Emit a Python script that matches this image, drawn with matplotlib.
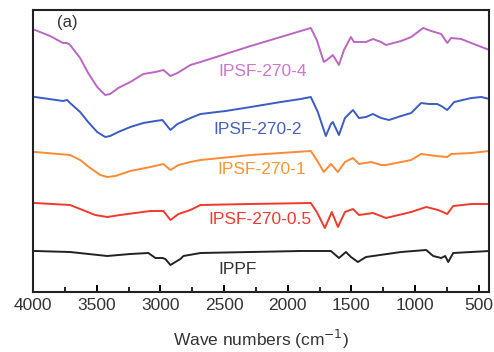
import numpy as np
import matplotlib
matplotlib.use('Agg')
import matplotlib.pyplot as plt
from matplotlib.ticker import MultipleLocator

plt.rcParams['font.family'] = ['Liberation Sans', 'DejaVu Sans']

# FTIR spectra, arbitrary transmittance units (stacked)
wn_4 = [3984, 3866, 3764, 3732, 3709, 3630, 3567, 3496, 3433, 3394, 3331, 3236, 3134, 3039,
        2976, 2921, 2866, 2764, 2685, 2488, 2291, 2055, 1898, 1819, 1772, 1717, 1693, 1646,
        1598, 1559, 1504, 1480, 1386, 1331, 1268, 1228, 1110, 1031, 937, 874, 795, 748, 717,
        638, 559, 417]
t_4 = [270, 264, 257, 257, 255, 242, 227, 213, 205, 206, 212, 218, 226, 228,
       230, 224, 227, 235, 238, 246, 254, 263, 269, 272, 260, 238, 240, 245,
       235, 250, 263, 258, 258, 261, 258, 255, 259, 263, 272, 269, 266, 257, 262,
       261, 257, 250]

wn_2 = [3984, 3764, 3732, 3709, 3630, 3567, 3496, 3433, 3394, 3331, 3236, 3134, 3039, 2984,
        2921, 2866, 2764, 2685, 2488, 2291, 2055, 1898, 1819, 1764, 1701, 1661, 1646, 1598,
        1551, 1488, 1441, 1386, 1331, 1268, 1205, 1110, 1031, 953, 890, 827, 795, 748, 693,
        559, 480, 417]
t_2 = [203, 199, 200, 197, 188, 178, 168, 163, 164, 168, 173, 177, 179, 180,
       170, 176, 182, 186, 189, 193, 198, 201, 203, 188, 164, 176, 178, 165,
       182, 190, 182, 183, 186, 182, 180, 184, 187, 197, 196, 196, 194, 190, 198,
       202, 203, 201]

wn_1 = [3984, 3709, 3630, 3551, 3472, 3417, 3354, 3236, 3079, 2976, 2921, 2858, 2764, 2685,
        2291, 1819, 1772, 1717, 1661, 1606, 1551, 1488, 1441, 1346, 1268, 1228, 1110, 1031,
        953, 835, 748, 717, 559, 417]
t_1 = [148, 145, 140, 132, 125, 123, 124, 129, 133, 136, 130, 135, 138, 140,
       145, 149, 140, 128, 136, 128, 138, 142, 136, 138, 135, 135, 138, 140,
       146, 144, 143, 146, 147, 149]

wn_05 = [3984, 3709, 3630, 3512, 3417, 3315, 3079, 2976, 2921, 2858, 2764, 2685, 2291, 1819,
         1772, 1709, 1654, 1606, 1551, 1488, 1441, 1331, 1228, 1031, 913, 819, 748, 701,
         559, 417]
t_05 = [97, 95, 91, 85, 83, 85, 89, 89, 80, 86, 90, 95, 96, 97,
        88, 72, 88, 73, 88, 91, 85, 87, 82, 88, 93, 90, 86, 94,
        96, 96]

wn_ppf = [3984, 3709, 3417, 3236, 3094, 3039, 2984, 2961, 2921, 2882, 2843, 2819, 2685, 1898,
          1661, 1598, 1543, 1504, 1449, 1386, 1110, 913, 858, 795, 764, 740, 701, 417]
t_ppf = [49, 48, 44, 46, 47, 42, 42, 41, 35, 38, 41, 44, 47, 49,
         49, 42, 48, 43, 38, 43, 48, 50, 44, 42, 44, 38, 47, 49]

series = [
    (wn_ppf, t_ppf, '#222222', '#333333', 'IPPF', 2394, 30),
    (wn_05, t_05, '#f2392b', '#f03a2e', 'IPSF-270-0.5', 2220, 80),
    (wn_1, t_1, '#ff8a33', '#ff9433', 'IPSF-270-1', 2205, 130),
    (wn_2, t_2, '#3a5cc4', '#4660bf', 'IPSF-270-2', 2236, 171),
    (wn_4, t_4, '#b967c3', '#cc77cc', 'IPSF-270-4', 2197, 228),
]

fig = plt.figure(figsize=(4.94, 3.52), dpi=100)
ax = fig.add_axes([33 / 494, 60 / 352, 456 / 494, 282 / 352])

for wn, t, c, tc, name, lx, ly in series:
    ax.plot(wn, t, color=c, lw=1.4, solid_joinstyle='round')
    ax.text(lx, ly, name, color=tc, fontsize=12.5, ha='center', va='center')

ax.text(3732, 278, '(a)', fontsize=12, color='#333333', ha='center', va='center')

ax.set_xlim(4000, 420)
ax.set_ylim(8, 290)
ax.set_yticks([])
ax.xaxis.set_major_locator(MultipleLocator(500))
ax.xaxis.set_minor_locator(MultipleLocator(250))
ax.tick_params(axis='x', which='major', direction='in', length=5, width=1.4,
               labelsize=12.5, labelcolor='#333333', pad=4)
ax.tick_params(axis='x', which='minor', direction='in', length=3.5, width=1.2)
for s in ax.spines.values():
    s.set_linewidth(1.5)
    s.set_color('#222222')
ax.set_xlabel('Wave numbers (cm$^{-1}$)', fontsize=12.5, color='#333333', labelpad=11)

fig.savefig('out.png', dpi=100)
